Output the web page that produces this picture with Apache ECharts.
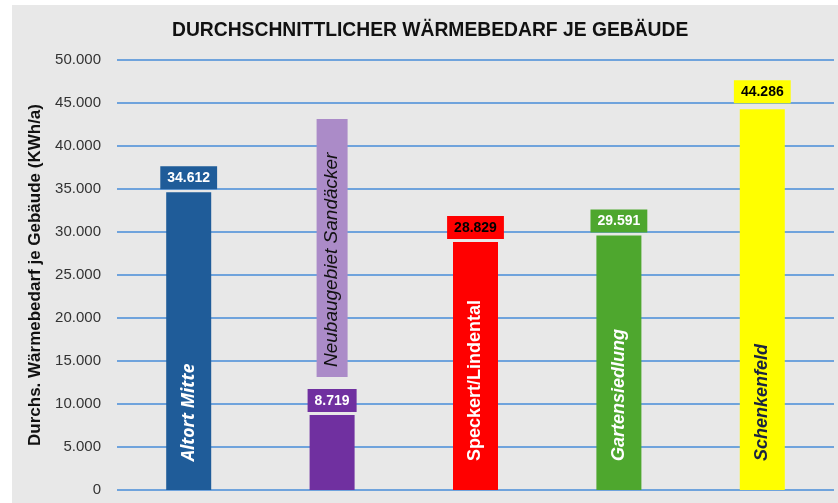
<!DOCTYPE html>
<html>
<head>
<meta charset="utf-8">
<script src="https://cdn.jsdelivr.net/npm/echarts@6/dist/echarts.min.js"></script>
<style>
	html, body { margin: 0; padding: 0; background: #fff; }
	#waermeChart { position: absolute; left: 12px; top: 5px; width: 826px; height: 498px; }
</style>
</head>
<body>
<div id="waermeChart"></div>
<script>
var categories = ['Altort Mitte', 'Neubaugebiet Sandäcker', 'Speckert/Lindental', 'Gartensiedlung', 'Schenkenfeld'];
var values = [34612, 8719, 28829, 29591, 44286];
var yMin = 0, yMax = 50000, yStep = 5000;

var barColors = ['#1f5c99', '#7030a0', '#ff0000', '#4ea72e', '#ffff00'];
var valueTextColors = ['#fff', '#fff', '#000', '#fff', '#000'];
var nameTextColors = ['#fff', '#111', '#fff', '#fff', '#1a2440'];

var chartPage = {
	init: function(){
		var myChart = echarts.init(document.getElementById('waermeChart'));
		myChart.setOption(chartPage.getOption());
	},
	fmt: function(v){
		// Tausenderpunkt wie im Original
		return String(v).replace(/\B(?=(\d{3})+(?!\d))/g, '.');
	},
	getOption: function(){
		var barData = values.map(function(v, i){
			var item = {
				value: v,
				itemStyle: {color: barColors[i]},
				label: {backgroundColor: barColors[i], color: valueTextColors[i]}
			};
			if (i == 4) {
				item.label.distance = 6;
			}
			return item;
		});

		var nameData = values.map(function(v, i){
			var item = {
				value: v,
				label: {color: nameTextColors[i]}
			};
			if (i == 0) {
				item.label.fontFamily = 'Open Sans';
				item.label.fontSize = 17.5;
			}
			if (i == 2) {
				item.label.fontStyle = 'normal';
			}
			if (i == 1) {
				// Name steht hier ueber dem kurzen Balken
				item.label = {
					position: 'top',
					distance: 38,
					color: nameTextColors[i],
					fontWeight: 'normal',
					fontSize: 19,
					backgroundColor: '#ab8bc8',
					width: 248,
					padding: [6, 0, 6, 10]
				};
			}
			return item;
		});

		var option = {
			backgroundColor: '#e8e8e8',
			animation: false,
			title: {
				text: 'DURCHSCHNITTLICHER WÄRMEBEDARF JE GEBÄUDE',
				left: 155,
				top: 11,
				textStyle: {
					fontFamily: 'Liberation Sans',
					fontWeight: 'bold',
					fontSize: 19.3,
					color: '#111'
				}
			},
			grid: {left: 105, right: 4, top: 55, bottom: 13, containLabel: false},
			xAxis: {
				type: 'category',
				data: categories,
				axisLine: {show: false},
				axisTick: {show: false},
				axisLabel: {show: false}
			},
			yAxis: {
				type: 'value',
				min: yMin,
				max: yMax,
				interval: yStep,
				name: 'Durchs. Wärmebedarf je Gebäude (KWh/a)',
				nameLocation: 'middle',
				nameGap: 59,
				nameTextStyle: {
					fontFamily: 'Liberation Sans',
					fontWeight: 'bold',
					fontSize: 17,
					color: '#111'
				},
				axisLine: {show: false},
				axisTick: {show: false},
				axisLabel: {
					margin: 16,
					fontFamily: 'Liberation Sans',
					fontSize: 15,
					color: '#333',
					formatter: function(v){ return chartPage.fmt(v); }
				},
				splitLine: {lineStyle: {color: '#6fa3dc', width: 2}}
			},
			series: [
				{
					type: 'bar',
					barWidth: 45,
					data: barData,
					label: {
						show: true,
						position: 'top',
						distance: 3,
						fontFamily: 'Liberation Sans',
						fontWeight: 'bold',
						fontSize: 14,
						padding: [5, 7, 4, 7],
						formatter: function(p){ return chartPage.fmt(p.value); }
					}
				},
				{
					type: 'bar',
					barWidth: 45,
					barGap: '-100%',
					data: nameData,
					itemStyle: {color: 'rgba(0,0,0,0)'},
					label: {
						show: true,
						position: 'insideBottom',
						distance: 29,
						rotate: 90,
						align: 'left',
						verticalAlign: 'middle',
						fontFamily: 'Liberation Sans',
						fontStyle: 'italic',
						fontWeight: 'bold',
						fontSize: 18,
						formatter: function(p){ return categories[p.dataIndex]; }
					}
				}
			]
		};

		return option;
	}
};

chartPage.init();
</script>
</body>
</html>
